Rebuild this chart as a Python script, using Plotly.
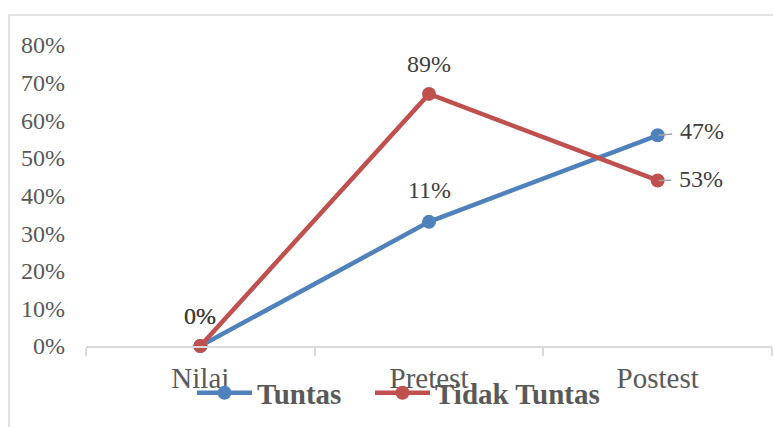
import plotly.graph_objects as go

categories = ["Nilai", "Pretest", "Postest"]
tuntas = [0.0, 0.33, 0.56]
tidak_tuntas = [0.0, 0.67, 0.44]
tuntas_labels = ["0%", "11%", "47%"]
tidak_tuntas_labels = ["0%", "89%", "53%"]
y_ticks = [0, 0.1, 0.2, 0.3, 0.4, 0.5, 0.6, 0.7, 0.8]

label_font = dict(family="Liberation Serif", size=24, color="#404040")
legend_font = dict(family="Liberation Serif", size=29, color="#595959", weight="bold")

fig = go.Figure()
fig.add_trace(go.Scatter(
    x=categories, y=tuntas, name="Tuntas", mode="lines+markers",
    line=dict(color="#4f81bd", width=4.5), marker=dict(size=14, color="#4f81bd"),
    cliponaxis=False, legend="legend"))
fig.add_trace(go.Scatter(
    x=categories, y=tidak_tuntas, name="Tidak Tuntas", mode="lines+markers",
    line=dict(color="#c0504d", width=4.5), marker=dict(size=14, color="#c0504d"),
    cliponaxis=False, legend="legend2"))

# data labels: above the point for the first two categories, to the right (with leader line) for the last
label_offsets = {"Tuntas": [(0, 30), (0, 32), (44, 4)], "Tidak Tuntas": [(0, 30), (0, 30), (43, 1)]}
for name, vals, labels in [("Tuntas", tuntas, tuntas_labels), ("Tidak Tuntas", tidak_tuntas, tidak_tuntas_labels)]:
    for i, (cat, v, lab) in enumerate(zip(categories, vals, labels)):
        dx, dy = label_offsets[name][i]
        if i < len(categories) - 1:
            fig.add_annotation(x=cat, y=v, text=lab, showarrow=False, yshift=dy,
                               font=label_font, xanchor="center", yanchor="middle")
        else:
            fig.add_annotation(x=cat, y=v, text=lab, showarrow=True, ax=dx, ay=-dy,
                               arrowhead=0, arrowwidth=1.5, arrowcolor="#a6a6a6",
                               standoff=1, startstandoff=6, font=label_font)

fig.add_shape(type="rect", xref="paper", yref="paper",
              x0=-0.1122, y0=-0.5, x1=1.2, y1=1.0997,
              line=dict(color="#d9d9d9", width=1.5), fillcolor="rgba(0,0,0,0)", layer="below")

fig.update_layout(
    width=773, height=427,
    margin=dict(l=86, r=1, t=45, b=81),
    paper_bgcolor="white", plot_bgcolor="white",
    showlegend=True,
    legend=dict(orientation="h", x=0.1545, xanchor="left", y=-0.156, yanchor="middle",
                font=legend_font, itemwidth=55, bgcolor="rgba(0,0,0,0)"),
    legend2=dict(orientation="h", x=0.414, xanchor="left", y=-0.156, yanchor="middle",
                 font=legend_font, itemwidth=55, bgcolor="rgba(0,0,0,0)"),
    xaxis=dict(type="category", range=[-0.5, 2.5], showline=True, linecolor="#d9d9d9", linewidth=1.5,
               ticks="outside", tickson="boundaries", ticklen=8, tickcolor="#d9d9d9", tickwidth=1.5,
               showgrid=False, zeroline=False, ticklabelstandoff=5,
               tickfont=dict(family="Liberation Serif", size=29, color="#595959")),
    yaxis=dict(range=[0, 0.8], tickvals=y_ticks, tickformat=".0%", showline=False, showgrid=False,
               zeroline=False, ticklabelstandoff=20,
               tickfont=dict(family="Liberation Serif", size=24, color="#595959")),
)

fig.write_html("out.html")
